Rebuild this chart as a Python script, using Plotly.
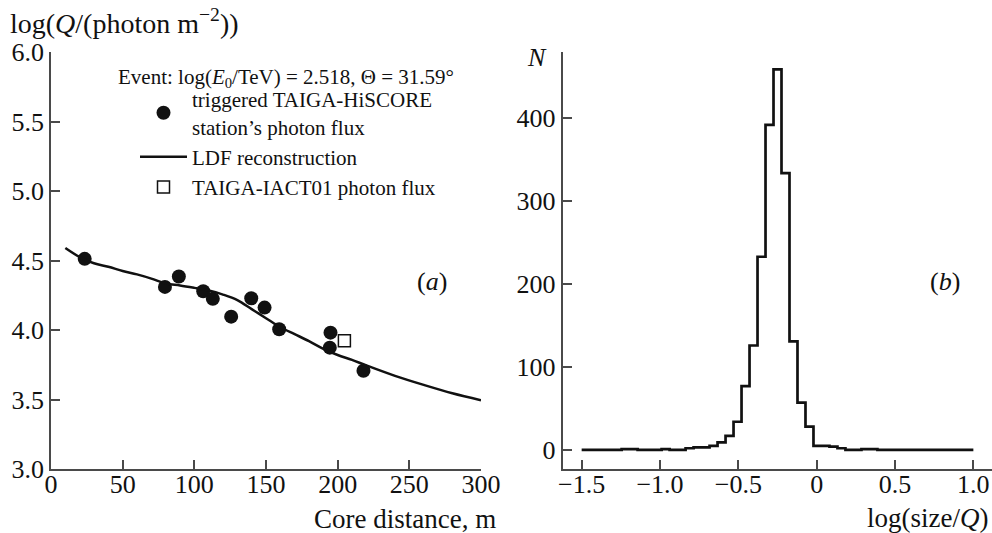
import plotly.graph_objects as go

# ---------------- data ----------------
# panel (a): HiSCORE station photon fluxes
core_dist = [23.5, 79.5, 89.2, 106.2, 112.9, 125.7, 139.7, 149.0, 159.2, 195.0, 194.5, 218.0]
log_q = [4.512, 4.31, 4.385, 4.279, 4.224, 4.096, 4.228, 4.161, 4.005, 3.981, 3.873, 3.707]
# IACT01 photon flux
iact_dist = [204.7]
iact_log_q = [3.923]
# LDF reconstruction curve
ldf_dist = [10, 20, 30, 40, 50, 60, 70, 80, 90, 100, 110, 120, 130, 140, 150, 160, 170,
            180, 190, 200, 210, 220, 240, 260, 280, 300]
ldf_log_q = [4.59, 4.525, 4.48, 4.455, 4.425, 4.40, 4.37, 4.335, 4.32, 4.303, 4.285, 4.255,
             4.215, 4.15, 4.085, 4.02, 3.97, 3.92, 3.865, 3.82, 3.785, 3.745, 3.67, 3.605,
             3.545, 3.495]

# panel (b): histogram of log(size/Q), 49 bins from -1.5 to 1.0
hist_start = -1.5
hist_end = 1.0
hist_counts = [0, 0, 0, 0, 0, 1, 1, 0, 0, 0, 1, 0, 0, 2, 3, 3, 5, 9, 17, 34, 77, 126, 233,
               392, 459, 334, 131, 57, 28, 5, 5, 4, 2, 0, 0, 1, 1, 0, 0, 0, 0, 0, 0, 0, 0,
               0, 0, 0, 0]

left_xticks = [0, 50, 100, 150, 200, 250, 300]
left_yticks = [3.0, 3.5, 4.0, 4.5, 5.0, 5.5, 6.0]
right_xticks = [-1.5, -1.0, -0.5, 0, 0.5, 1.0]
right_xticklabels = ["\u22121.5", "\u22121.0", "\u22120.5", "0", "0.5", "1.0"]
right_yticks = [0, 100, 200, 300, 400]

# ---------------- figure ----------------
W, H = 992, 533
ML, MR, MT, MB = 51, 0, 52, 64
PW, PH = W - ML - MR, H - MT - MB


def px(xp, yp):
    return (xp - ML) / PW, (H - MB - yp) / PH


FONT = "Liberation Serif"
AX = "#4a4a4a"

nb = len(hist_counts)
w = (hist_end - hist_start) / nb
edges = [hist_start + i * w for i in range(nb + 1)]
hist_y = hist_counts + [hist_counts[-1]]

fig = go.Figure()

fig.add_trace(go.Scatter(x=core_dist, y=log_q, mode="markers", xaxis="x", yaxis="y",
                         marker=dict(color="#111111", size=14, line=dict(width=0)),
                         name="triggered TAIGA-HiSCORE<br>station\u2019s photon flux",
                         legendrank=1))
fig.add_trace(go.Scatter(x=ldf_dist, y=ldf_log_q, mode="lines", xaxis="x", yaxis="y",
                         line=dict(color="#111111", width=2.5, shape="spline"),
                         name="LDF reconstruction", legendrank=2))
fig.add_trace(go.Scatter(x=iact_dist, y=iact_log_q, mode="markers", xaxis="x", yaxis="y",
                         marker=dict(symbol="square-open", color="#111111", size=12,
                                     line=dict(width=1.5)),
                         name="TAIGA-IACT01 photon flux", legendrank=3))
fig.add_trace(go.Scatter(x=edges, y=hist_y, mode="lines", xaxis="x2", yaxis="y2",
                         line=dict(color="#111111", width=2.7, shape="hv"),
                         showlegend=False))

axis_common = dict(showgrid=False, zeroline=False, showline=True, linecolor=AX, linewidth=1.8,
                   ticks="inside", ticklen=9, tickwidth=1.8, tickcolor=AX, automargin=False,
                   tickfont=dict(family=FONT, size=26, color="#111111"))

l0, l1 = 0.0, (481 - ML) / PW
r0 = (562.7 - ML) / PW

fig.update_layout(
    template="none",
    width=W, height=H, autosize=False,
    margin=dict(l=ML, r=MR, t=MT, b=MB, pad=0),
    plot_bgcolor="white", paper_bgcolor="white",
    font=dict(family=FONT, color="#111111"),
    xaxis=dict(domain=[l0, l1], range=[0, 300], tickvals=left_xticks,
               ticklabelstandoff=-9, anchor="y", **axis_common),
    yaxis=dict(domain=[0, 1], range=[3.0, 6.0], tickvals=left_yticks,
               tickformat=".1f", ticklabelstandoff=0, anchor="x", **axis_common),
    xaxis2=dict(domain=[r0, 1.0], range=[-1.621, 1.119], tickvals=right_xticks,
                ticktext=right_xticklabels, ticklabelstandoff=-9, anchor="y2", **axis_common),
    yaxis2=dict(domain=[0, 1], range=[-23, 480], tickvals=right_yticks,
                ticklabelstandoff=0, anchor="x2", **axis_common),
    showlegend=True,
    legend=dict(x=px(135, 0)[0], y=px(0, 79)[1], xanchor="left", yanchor="top",
                bgcolor="rgba(0,0,0,0)", font=dict(family=FONT, size=21, color="#111111"),
                tracegroupgap=0, itemwidth=47, valign="middle"),
)

ann = []


def add_text(text, xp, yp, xanchor="center", size=24, yanchor="middle"):
    x, y = px(xp, yp)
    ann.append(dict(text=text, x=x, y=y, xref="paper", yref="paper", xanchor=xanchor,
                    yanchor=yanchor, showarrow=False,
                    font=dict(family=FONT, size=size, color="#111111")))


add_text("log(<i>Q</i>/(photon m<sup>\u22122</sup>))", 8, 21, xanchor="left", size=28)
add_text("Event: log(<i>E</i><sub>0</sub>/TeV) = 2.518, \u0398 = 31.59\u00b0", 116, 78,
         xanchor="left", size=21)
add_text("(<i>a</i>)", 432, 281, size=26)
add_text("(<i>b</i>)", 945, 281, size=26)
add_text("Core distance, m", 498, 519, xanchor="right", size=27)
add_text("log(size/<i>Q</i>)", 990, 518, xanchor="right", size=27)
add_text("<i>N</i>", 537, 57, size=26)

fig.update_layout(annotations=ann)

post = """
document.documentElement.style.margin='0';
document.documentElement.style.overflow='hidden';
document.body.style.margin='0';
document.body.style.overflow='hidden';
"""

fig.write_html("out.html", post_script=post, config={"displayModeBar": False})
